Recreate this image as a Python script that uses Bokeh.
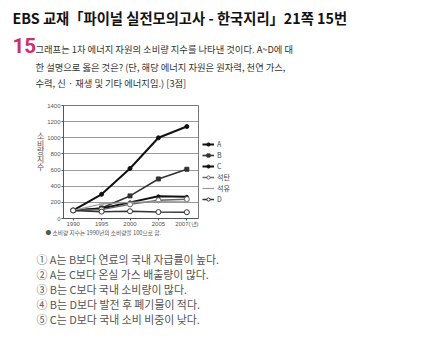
from bokeh.plotting import figure
from bokeh.layouts import column, row
from bokeh.models import Label, Legend, LegendItem, FixedTicker, Range1d
from bokeh.embed import file_html
from bokeh.resources import INLINE

years = ["1990", "1995", "2000", "2005", "2007(년)"]
series_names = ["A", "B", "C", "석탄", "석유", "D"]
A = [100, 300, 620, 1000, 1140]
B = [100, 130, 280, 490, 610]
C = [100, 125, 200, 275, 270]
coal = [100, 110, 175, 225, 240]
oil = [100, 180, 200, 210, 205]
D = [100, 85, 90, 80, 78]
y_ticks = [0, 200, 400, 600, 800, 1000, 1200, 1400]

W = 440
KR = "Noto Sans CJK KR"
TICKF = "Liberation Sans"

TOP_H, CH_H, BOT_H = 101, 128, 122
YT_W, CH_W = 44, 158          # y-title strip, chart figure
LEG_W = W - YT_W - CH_W


def text_fig(w, h):
    f = figure(width=w, height=h, output_backend="svg", toolbar_location=None,
               x_range=Range1d(0, 1), y_range=Range1d(0, 1),
               min_border=0, min_border_left=0, min_border_right=0,
               min_border_top=0, min_border_bottom=0)
    f.axis.visible = False
    f.grid.visible = False
    f.outline_line_color = None
    f.background_fill_color = "white"
    f.border_fill_color = "white"
    return f


def lab(f, h, x, y, text, size, color="#222222", font=KR, style="normal", align="left"):
    f.add_layout(Label(x=x, y=h - y, x_units="screen", y_units="screen", text=text,
                       text_font_size=f"{size}px", text_color=color, text_font=font,
                       text_font_style=style, text_align=align, text_baseline="middle"))


# ---- top text block
top = text_fig(W, TOP_H)
lab(top, TOP_H, 12, 17, "EBS 교재「파이널 실전모의고사 - 한국지리」21쪽 15번", 14.3, "#111111", style="bold")
lab(top, TOP_H, 12, 45, "15", 20.5, "#c8326a", font="Roboto", style="bold")
lab(top, TOP_H, 35, 48, "그래프는 1차 에너지 자원의 소비량 지수를 나타낸 것이다. A~D에 대", 9.3, "#333333")
lab(top, TOP_H, 35, 66, "한 설명으로 옳은 것은? (단, 해당 에너지 자원은 원자력, 천연 가스,", 9.3, "#333333")
lab(top, TOP_H, 35, 82, "수력, 신 · 재생 및 기타 에너지임.) [3점]", 9.3, "#333333")

# ---- y title strip (stacked characters)
yt = text_fig(YT_W, CH_H)
for ch, yy in zip("소비량지수", [45, 52.5, 60, 68, 76]):
    lab(yt, CH_H, 40, yy, ch, 7.8, "#555555", align="center")

# ---- chart
p = figure(width=CH_W, height=CH_H, output_backend="svg", toolbar_location=None,
           x_range=Range1d(-0.34, 4.41), y_range=Range1d(0, 1400),
           min_border_left=16, min_border_right=4, min_border_top=4,
           min_border_bottom=11)
p.background_fill_color = "white"
p.border_fill_color = "white"
p.outline_line_color = "#777777"
p.xgrid.grid_line_color = None
p.ygrid.grid_line_color = "#9a9a9a"
p.ygrid.ticker = FixedTicker(ticks=y_ticks)

p.xaxis.ticker = FixedTicker(ticks=list(range(len(years))))
p.xaxis.major_label_overrides = {i: y for i, y in enumerate(years)}
p.yaxis.ticker = FixedTicker(ticks=y_ticks)
for ax in (p.xaxis, p.yaxis):
    ax.axis_line_color = "#555555"
    ax.major_tick_line_color = "#555555"
    ax.minor_tick_line_color = None
    ax.major_tick_out = 2
    ax.major_tick_in = 0
    ax.major_label_text_font_size = "6px"
    ax.major_label_text_color = "#555555"
    ax.major_label_text_font = TICKF
    ax.major_label_standoff = 1
p.xaxis.major_label_standoff = 0

xs = list(range(len(years)))
styles = [
    (A, "#111111", 2.0, "circle", 4, "#111111"),
    (B, "#333333", 1.6, "square", 4, "#333333"),
    (C, "#111111", 2.0, "circle", 3, "#111111"),
    (coal, "#666666", 1.5, "circle", 5, "white"),
    (oil, "#9a9a9a", 1.2, "dash", 5, "#9a9a9a"),
    (D, "#333333", 1.5, "circle", 5, "white"),
]
for vals, col, lw, mk, sz, fill in styles:
    p.line(xs, vals, line_color=col, line_width=lw)
    p.scatter(xs, vals, marker=mk, size=sz, line_color=col, fill_color=fill, line_width=1)

# ---- legend strip: same series, lying outside this strip's visible range
lg = text_fig(LEG_W, CH_H)
items = []
for name, (vals, col, lw, mk, sz, fill) in zip(series_names, styles):
    r1 = lg.line(xs, vals, line_color=col, line_width=lw)
    r2 = lg.scatter(xs, vals, marker=mk, size=sz, line_color=col, fill_color=fill, line_width=1)
    items.append(LegendItem(label=name, renderers=[r1, r2]))
leg = Legend(items=items, location=(0, 14), orientation="vertical")
leg.glyph_height = 8
leg.label_height = 8
leg.glyph_width = 12
leg.spacing = 1
leg.padding = 0
leg.margin = 0
leg.label_standoff = 3
leg.label_text_font_size = "7px"
leg.label_text_color = "#444444"
leg.label_text_font = KR
leg.border_line_alpha = 0
leg.background_fill_alpha = 0
lg.add_layout(leg)

# ---- bottom text block
bot = text_fig(W, BOT_H)
lab(bot, BOT_H, 45, 3, "● 소비량 지수는 1990년의 소비량을 100으로 함.", 5.7, "#555555")
answers = ["① A는 B보다 연료의 국내 자급률이 높다.",
           "② A는 C보다 온실 가스 배출량이 많다.",
           "③ B는 C보다 국내 소비량이 많다.",
           "④ B는 D보다 발전 후 폐기물이 적다.",
           "⑤ C는 D보다 국내 소비 비중이 낮다."]
for i, a in enumerate(answers):
    lab(bot, BOT_H, 36, 29 + 15 * i, a, 10.9, "#555555")

layout = column(top, row(yt, p, lg, spacing=0), bot, spacing=0)
open("out.html", "w").write(file_html(layout, INLINE))
